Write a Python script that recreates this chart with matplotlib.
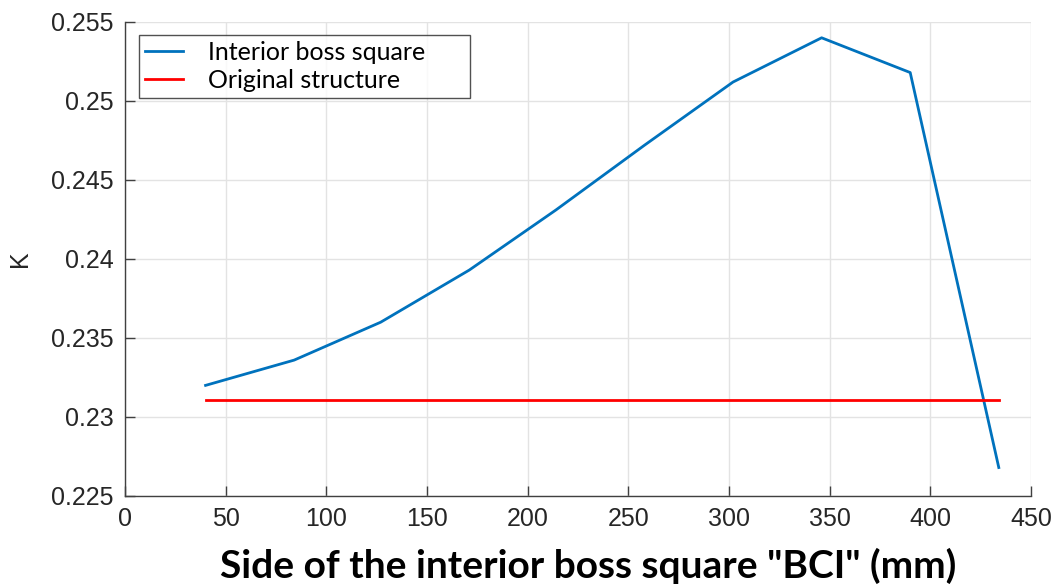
"""
Plot K against the side of the interior boss square (BCI),
compared with the original structure.
"""

import matplotlib
matplotlib.use("Agg")
import matplotlib.pyplot as plt

# ------------------------------------------------------------------
# Data
# ------------------------------------------------------------------
side_mm = [40, 84, 127, 171, 214, 258, 302, 346, 390, 434]
k_boss_square = [0.2320, 0.2336, 0.2360, 0.2393, 0.2431,
                 0.2472, 0.2512, 0.2540, 0.2518, 0.2268]

original_x = [40, 434]
original_k = [0.2311, 0.2311]

x_ticks = [0, 50, 100, 150, 200, 250, 300, 350, 400, 450]
y_ticks = [0.225, 0.23, 0.235, 0.24, 0.245, 0.25, 0.255]
y_tick_labels = ["0.225", "0.23", "0.235", "0.24", "0.245", "0.25", "0.255"]

# ------------------------------------------------------------------
# Figure
# ------------------------------------------------------------------
fig = plt.figure(figsize=(10.57, 5.88), dpi=100)
ax = fig.add_axes([0.1183, 0.1565, 0.8571, 0.8061])

ax.plot(side_mm, k_boss_square, color="#0072BD", linewidth=2.0,
        label="Interior boss square")
ax.plot(original_x, original_k, color="#FF0000", linewidth=2.0,
        label="Original structure")

ax.set_xlim(0, 450)
ax.set_ylim(0.225, 0.255)
ax.set_xticks(x_ticks)
ax.set_yticks(y_ticks)
ax.set_yticklabels(y_tick_labels)

for lbl in ax.get_xticklabels() + ax.get_yticklabels():
    lbl.set_fontfamily("Liberation Sans")
    lbl.set_fontsize(18)
    lbl.set_color("#262626")

ax.tick_params(direction="in", length=7, width=1.0, color="#404040",
               pad=8)

ax.grid(True, color="#e3e3e3", linewidth=1.0)
ax.set_axisbelow(True)

for side in ("top", "right"):
    ax.spines[side].set_visible(False)
for side in ("left", "bottom"):
    ax.spines[side].set_color("#404040")
    ax.spines[side].set_linewidth(1.0)

ax.set_ylabel("K", fontfamily="Liberation Sans", fontsize=18,
              color="#262626", labelpad=14)
ax.set_xlabel('Side of the interior boss square "BCI" (mm)',
              fontfamily="Lato", fontweight="bold", fontsize=28,
              color="black", labelpad=12)
ax.xaxis.label.set_x(0.511)

leg = ax.legend(loc="upper left", bbox_to_anchor=(0.0155, 0.9726, 0.3653, 0.0),
                mode="expand",
                prop={"family": "Lato", "size": 18},
                frameon=True, fancybox=False, handlelength=1.5,
                handletextpad=1.0, borderpad=0.25, borderaxespad=0.0,
                labelspacing=0.2)
leg.get_frame().set_edgecolor("#262626")
leg.get_frame().set_linewidth(1.0)

fig.savefig("out.png", dpi=100)
plt.close(fig)
